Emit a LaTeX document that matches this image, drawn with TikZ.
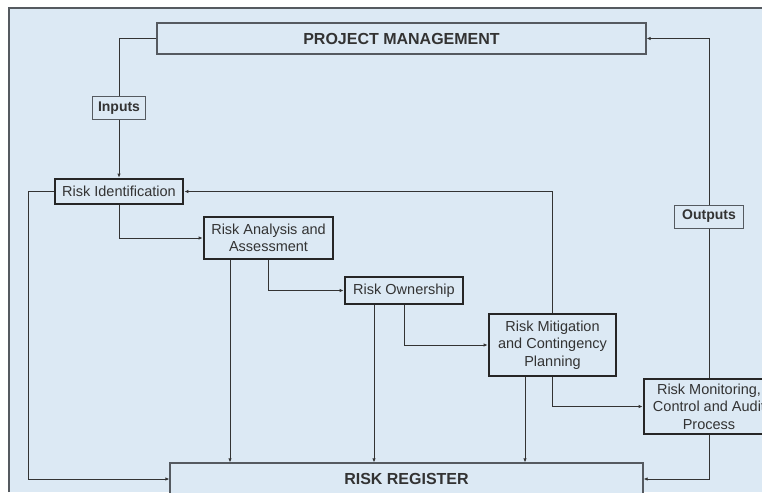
\documentclass[tikz,border=0pt]{standalone}
\usepackage{fontspec}
\setmainfont{Liberation Sans}
\usetikzlibrary{arrows.meta}

\definecolor{panel}{HTML}{DCE9F4}
\definecolor{ink}{HTML}{333333}
\definecolor{frame}{HTML}{555A60}

\begin{document}
\begin{tikzpicture}[x=1pt,y=-1pt,
    flow/.style={draw=ink,line width=0.9pt,-{Latex[length=4pt,width=3.5pt]}},
    link/.style={draw=ink,line width=0.9pt},
    mainbox/.style={draw=frame,line width=1.3pt,fill=panel,text=ink,font=\fontsize{16}{19}\selectfont\bfseries},
    tagbox/.style={draw=frame,line width=1pt,fill=panel,text=ink,font=\fontsize{14}{17}\selectfont\bfseries},
    stepbox/.style={draw=black!85,line width=2.8pt,fill=panel,text=ink,align=center,inner sep=0pt,font=\fontsize{14.5}{17.5}\selectfont}]
    \useasboundingbox (0,0) rectangle (762,492);
    \clip (0,0) rectangle (762,492);
    \fill[white] (0,0) rectangle (762,492);
    \fill[panel] (9,8) rectangle (762,492);
    \draw[frame,line width=1.3pt] (9,492) -- (9,8) -- (762,8);

    \node[mainbox,minimum width=489pt,minimum height=31pt] (pm) at (401.5,38.5) {PROJECT MANAGEMENT};
    \node[mainbox,minimum width=473pt,minimum height=32pt] (rr) at (406.5,479) {RISK REGISTER};
    \node[tagbox,minimum width=53pt,minimum height=22pt,inner sep=0pt] (inputs) at (119,108) {Inputs};
    \node[tagbox,minimum width=69pt,minimum height=23pt,inner sep=0pt] (outputs) at (709,216.5) {Outputs};

    \node[stepbox,minimum width=128pt,minimum height=25pt] (ident) at (119,191.5) {Risk Identification};
    \node[stepbox,minimum width=129pt,minimum height=42pt] (analysis) at (268.5,238) {Risk Analysis and\\Assessment};
    \node[stepbox,minimum width=118pt,minimum height=27pt] (owner) at (404,290.5) {Risk Ownership};
    \node[stepbox,minimum width=127pt,minimum height=62pt] (mitig) at (552.5,345) {Risk Mitigation\\and Contingency\\Planning};
    \node[stepbox,minimum width=130pt,minimum height=55pt] (monitor) at (709,406.5) {Risk Monitoring,\\Control and Audit\\Process};

    \draw[link] (pm.west) -| (inputs.north);
    \draw[flow] (inputs.south) -- (ident.north);
    \draw[flow] (ident.west) -- ++(-25,0) |- (rr.west);
    \draw[flow] (ident.south) |- (analysis.west);
    \draw[flow] (mitig.north) |- (ident.east); % feedback
    \draw[flow] ([xshift=-38.5pt]analysis.south) -- ([xshift=-38.5pt]analysis.south |- rr.north);
    \draw[flow] (analysis.south) |- (owner.west);
    \draw[flow] ([xshift=-30pt]owner.south) -- ([xshift=-30pt]owner.south |- rr.north);
    \draw[flow] (owner.south) |- (mitig.west);
    \draw[flow] ([xshift=-27.5pt]mitig.south) -- ([xshift=-27.5pt]mitig.south |- rr.north);
    \draw[flow] (mitig.south) |- (monitor.west);
    \draw[link] (monitor.north) -- (outputs.south);
    \draw[flow] (outputs.north) |- (pm.east);
    \draw[flow] (monitor.south) |- (rr.east);
\end{tikzpicture}
\end{document}
